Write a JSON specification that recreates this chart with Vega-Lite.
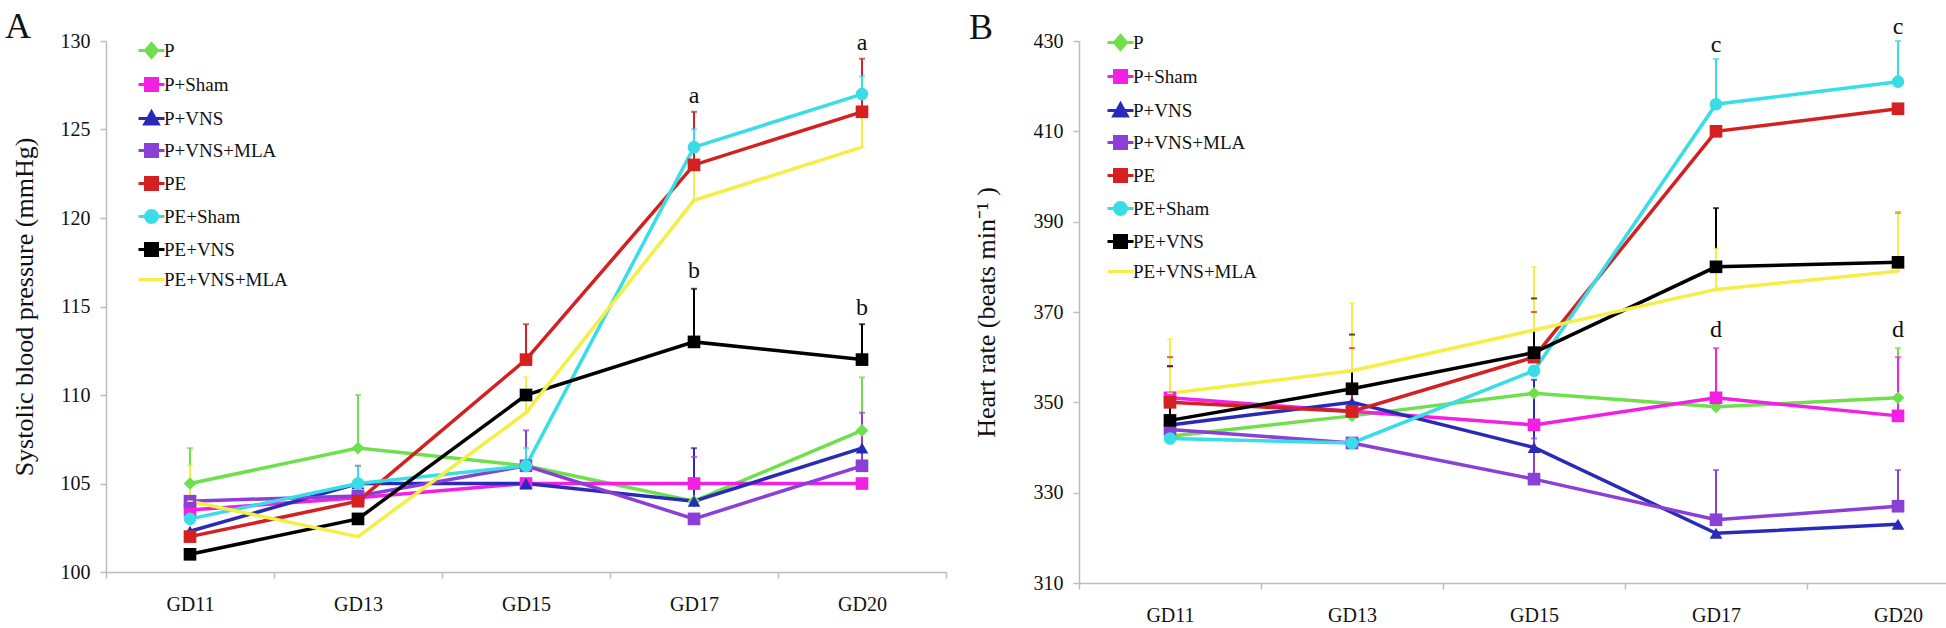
{
  "$schema": "https://vega.github.io/schema/vega-lite/v6.json",
  "background": "white",
  "padding": {"left": 5, "top": 8, "right": 0, "bottom": 0},
  "spacing": 22,
  "config": {
    "font": "Liberation Serif",
    "view": {"stroke": null},
    "axis": {
      "grid": false,
      "domainColor": "#bdbdbd",
      "tickColor": "#bdbdbd",
      "domainWidth": 1.5,
      "tickWidth": 1.5,
      "tickSize": 6,
      "labelFont": "Liberation Serif",
      "labelFontSize": 20,
      "labelColor": "#111111",
      "titleFont": "Liberation Serif",
      "titleFontSize": 26,
      "titleFontWeight": "normal",
      "titleColor": "#111111"
    },
    "legend": {
      "title": null, "orient": "none", "padding": 0,
      "symbolSize": 100, "symbolStrokeWidth": 3, "symbolOpacity": 1,
      "labelFontSize": 19, "labelFont": "Liberation Serif", "labelColor": "#111111",
      "rowPadding": 8, "labelOffset": 3
    },
    "title": {"font": "Liberation Serif", "fontSize": 36, "fontWeight": "normal", "anchor": "start", "color": "#111111"}
  },
  "datasets": {
    "sbp": [
      {"group": "P", "gd": "GD11", "v": 105, "upper": 107},
      {"group": "P", "gd": "GD13", "v": 107, "upper": 110},
      {"group": "P", "gd": "GD15", "v": 106, "upper": null},
      {"group": "P", "gd": "GD17", "v": 104, "upper": null},
      {"group": "P", "gd": "GD20", "v": 108, "upper": 111},
      {"group": "P+Sham", "gd": "GD11", "v": 103.5, "upper": null},
      {"group": "P+Sham", "gd": "GD13", "v": 104.2, "upper": null},
      {"group": "P+Sham", "gd": "GD15", "v": 105, "upper": null},
      {"group": "P+Sham", "gd": "GD17", "v": 105, "upper": 106.5},
      {"group": "P+Sham", "gd": "GD20", "v": 105, "upper": null},
      {"group": "P+VNS", "gd": "GD11", "v": 102.3, "upper": null},
      {"group": "P+VNS", "gd": "GD13", "v": 105, "upper": null},
      {"group": "P+VNS", "gd": "GD15", "v": 105, "upper": null},
      {"group": "P+VNS", "gd": "GD17", "v": 104, "upper": 107},
      {"group": "P+VNS", "gd": "GD20", "v": 107, "upper": 108},
      {"group": "P+VNS+MLA", "gd": "GD11", "v": 104, "upper": null},
      {"group": "P+VNS+MLA", "gd": "GD13", "v": 104.3, "upper": null},
      {"group": "P+VNS+MLA", "gd": "GD15", "v": 106, "upper": 108},
      {"group": "P+VNS+MLA", "gd": "GD17", "v": 103, "upper": null},
      {"group": "P+VNS+MLA", "gd": "GD20", "v": 106, "upper": 109},
      {"group": "PE", "gd": "GD11", "v": 102, "upper": null},
      {"group": "PE", "gd": "GD13", "v": 104, "upper": 106},
      {"group": "PE", "gd": "GD15", "v": 112, "upper": 114},
      {"group": "PE", "gd": "GD17", "v": 123, "upper": 126},
      {"group": "PE", "gd": "GD20", "v": 126, "upper": 129},
      {"group": "PE+Sham", "gd": "GD11", "v": 103, "upper": null},
      {"group": "PE+Sham", "gd": "GD13", "v": 105, "upper": 106},
      {"group": "PE+Sham", "gd": "GD15", "v": 106, "upper": 107},
      {"group": "PE+Sham", "gd": "GD17", "v": 124, "upper": 125},
      {"group": "PE+Sham", "gd": "GD20", "v": 127, "upper": 128},
      {"group": "PE+VNS", "gd": "GD11", "v": 101, "upper": null},
      {"group": "PE+VNS", "gd": "GD13", "v": 103, "upper": null},
      {"group": "PE+VNS", "gd": "GD15", "v": 110, "upper": null},
      {"group": "PE+VNS", "gd": "GD17", "v": 113, "upper": 116},
      {"group": "PE+VNS", "gd": "GD20", "v": 112, "upper": 114},
      {"group": "PE+VNS+MLA", "gd": "GD11", "v": 104, "upper": 106},
      {"group": "PE+VNS+MLA", "gd": "GD13", "v": 102, "upper": null},
      {"group": "PE+VNS+MLA", "gd": "GD15", "v": 109, "upper": 111},
      {"group": "PE+VNS+MLA", "gd": "GD17", "v": 121, "upper": 123},
      {"group": "PE+VNS+MLA", "gd": "GD20", "v": 124, "upper": 126}
    ],
    "hr": [
      {"group": "P", "gd": "GD11", "v": 342.5, "upper": null},
      {"group": "P", "gd": "GD13", "v": 347, "upper": null},
      {"group": "P", "gd": "GD15", "v": 352, "upper": null},
      {"group": "P", "gd": "GD17", "v": 349, "upper": null},
      {"group": "P", "gd": "GD20", "v": 351, "upper": 362},
      {"group": "P+Sham", "gd": "GD11", "v": 351, "upper": 358},
      {"group": "P+Sham", "gd": "GD13", "v": 348, "upper": null},
      {"group": "P+Sham", "gd": "GD15", "v": 345, "upper": null},
      {"group": "P+Sham", "gd": "GD17", "v": 351, "upper": 362},
      {"group": "P+Sham", "gd": "GD20", "v": 347, "upper": 360},
      {"group": "P+VNS", "gd": "GD11", "v": 345, "upper": null},
      {"group": "P+VNS", "gd": "GD13", "v": 350, "upper": null},
      {"group": "P+VNS", "gd": "GD15", "v": 340, "upper": 355},
      {"group": "P+VNS", "gd": "GD17", "v": 321, "upper": null},
      {"group": "P+VNS", "gd": "GD20", "v": 323, "upper": null},
      {"group": "P+VNS+MLA", "gd": "GD11", "v": 344, "upper": null},
      {"group": "P+VNS+MLA", "gd": "GD13", "v": 341, "upper": null},
      {"group": "P+VNS+MLA", "gd": "GD15", "v": 333, "upper": 342},
      {"group": "P+VNS+MLA", "gd": "GD17", "v": 324, "upper": 335},
      {"group": "P+VNS+MLA", "gd": "GD20", "v": 327, "upper": 335},
      {"group": "PE", "gd": "GD11", "v": 350, "upper": 360},
      {"group": "PE", "gd": "GD13", "v": 348, "upper": 362},
      {"group": "PE", "gd": "GD15", "v": 360, "upper": 370},
      {"group": "PE", "gd": "GD17", "v": 410, "upper": null},
      {"group": "PE", "gd": "GD20", "v": 415, "upper": null},
      {"group": "PE+Sham", "gd": "GD11", "v": 342, "upper": null},
      {"group": "PE+Sham", "gd": "GD13", "v": 341, "upper": null},
      {"group": "PE+Sham", "gd": "GD15", "v": 357, "upper": null},
      {"group": "PE+Sham", "gd": "GD17", "v": 416, "upper": 426},
      {"group": "PE+Sham", "gd": "GD20", "v": 421, "upper": 430},
      {"group": "PE+VNS", "gd": "GD11", "v": 346, "upper": 358},
      {"group": "PE+VNS", "gd": "GD13", "v": 353, "upper": 365},
      {"group": "PE+VNS", "gd": "GD15", "v": 361, "upper": 373},
      {"group": "PE+VNS", "gd": "GD17", "v": 380, "upper": 393},
      {"group": "PE+VNS", "gd": "GD20", "v": 381, "upper": 392},
      {"group": "PE+VNS+MLA", "gd": "GD11", "v": 352, "upper": 364},
      {"group": "PE+VNS+MLA", "gd": "GD13", "v": 357, "upper": 372},
      {"group": "PE+VNS+MLA", "gd": "GD15", "v": 366, "upper": 380},
      {"group": "PE+VNS+MLA", "gd": "GD17", "v": 375, "upper": 384},
      {"group": "PE+VNS+MLA", "gd": "GD20", "v": 379, "upper": 392}
    ],
    "sbp_labels": [
      {"gd": "GD17", "v": 126.9, "label": "a"},
      {"gd": "GD20", "v": 129.9, "label": "a"},
      {"gd": "GD17", "v": 117.0, "label": "b"},
      {"gd": "GD20", "v": 114.9, "label": "b"}
    ],
    "hr_labels": [
      {"gd": "GD17", "v": 429.1, "label": "c"},
      {"gd": "GD20", "v": 433.1, "label": "c"},
      {"gd": "GD17", "v": 366.1, "label": "d"},
      {"gd": "GD20", "v": 366.1, "label": "d"}
    ]
  },
  "resolve": {
    "scale": {"color": "independent", "shape": "independent", "stroke": "independent"},
    "legend": {"color": "independent", "shape": "independent", "stroke": "independent"}
  },
  "hconcat": [
    {
      "title": {"text": "A", "dx": -6, "offset": -15},
      "width": 840,
      "height": 531,
      "resolve": {
        "scale": {"shape": "independent", "color": "independent", "stroke": "independent"},
        "legend": {"shape": "independent", "color": "independent", "stroke": "independent"}
      },
      "encoding": {
        "x": {
          "field": "gd", "type": "nominal",
          "scale": {"domain": ["GD11", "GD13", "GD15", "GD17", "GD20"], "paddingInner": 0, "paddingOuter": 0},
          "axis": {"title": null, "labelAngle": 0, "tickBand": "extent", "labelPadding": 16, "tickSize": 6}
        }
      },
      "layer": [
        {
          "data": {"name": "sbp"},
          "transform": [{"filter": "datum.upper != null"}],
          "mark": {"type": "rule", "strokeWidth": 2},
          "encoding": {
            "y": {"field": "v", "type": "quantitative", "scale": {"domain": [100, 130], "nice": false, "zero": false}},
            "y2": {"field": "upper"},
            "color": {"field": "group", "type": "nominal", "legend": null, "scale": {"domain": ["P", "P+Sham", "P+VNS", "P+VNS+MLA", "PE", "PE+Sham", "PE+VNS", "PE+VNS+MLA"], "range": ["#6ee04b", "#f21fe4", "#2a2ab8", "#8a3fd6", "#d42020", "#38dde6", "#000000", "#f4ef46"]}}
          }
        },
        {
          "data": {"name": "sbp"},
          "transform": [{"filter": "datum.upper != null"}],
          "mark": {"type": "tick", "orient": "horizontal", "size": 6, "thickness": 2},
          "encoding": {
            "y": {"field": "upper", "type": "quantitative"},
            "color": {"field": "group", "type": "nominal", "legend": null, "scale": {"domain": ["P", "P+Sham", "P+VNS", "P+VNS+MLA", "PE", "PE+Sham", "PE+VNS", "PE+VNS+MLA"], "range": ["#6ee04b", "#f21fe4", "#2a2ab8", "#8a3fd6", "#d42020", "#38dde6", "#000000", "#f4ef46"]}}
          }
        },
        {
          "data": {"name": "sbp"},
          "mark": {"type": "line", "strokeWidth": 3.5},
          "encoding": {
            "y": {"field": "v", "type": "quantitative", "axis": {"title": "Systolic blood pressure (mmHg)", "values": [100, 105, 110, 115, 120, 125, 130], "tickSize": 6, "labelPadding": 10, "titlePadding": 23}},
            "color": {"field": "group", "type": "nominal", "legend": null, "scale": {"domain": ["P", "P+Sham", "P+VNS", "P+VNS+MLA", "PE", "PE+Sham", "PE+VNS", "PE+VNS+MLA"], "range": ["#6ee04b", "#f21fe4", "#2a2ab8", "#8a3fd6", "#d42020", "#38dde6", "#000000", "#f4ef46"]}},
            "detail": {"field": "group"}
          }
        },
        {
          "data": {"name": "sbp"},
          "mark": {"type": "point", "filled": true, "opacity": 1, "size": 160},
          "encoding": {
            "y": {"field": "v", "type": "quantitative"},
            "color": {"field": "group", "type": "nominal", "legend": null, "scale": {"domain": ["P", "P+Sham", "P+VNS", "P+VNS+MLA", "PE", "PE+Sham", "PE+VNS", "PE+VNS+MLA"], "range": ["#6ee04b", "#f21fe4", "#2a2ab8", "#8a3fd6", "#d42020", "#38dde6", "#000000", "#f4ef46"]}},
            "shape": {
              "field": "group", "type": "nominal", "legend": null,
              "scale": {"domain": ["P", "P+Sham", "P+VNS", "P+VNS+MLA", "PE", "PE+Sham", "PE+VNS", "PE+VNS+MLA"], "range": ["diamond", "square", "triangle-up", "square", "square", "circle", "square", "M-0.45,-0.13H0.45V0.13H-0.45Z"]}
            }
          }
        },
        {
          "data": {"name": "sbp"},
          "transform": [{"filter": "false"}],
          "mark": {"type": "point", "filled": true, "opacity": 1, "strokeWidth": 3},
          "encoding": {
            "y": {"field": "v", "type": "quantitative"},
            "color": {
              "field": "group", "type": "nominal",
              "scale": {"domain": ["P", "P+Sham", "P+VNS", "P+VNS+MLA", "PE", "PE+Sham", "PE+VNS", "PE+VNS+MLA"], "range": ["#6ee04b", "#f21fe4", "#2a2ab8", "#8a3fd6", "#d42020", "#38dde6", "#000000", "#f4ef46"]},
              "legend": {"legendX": 36, "legendY": 0}
            },
            "stroke": {
              "field": "group", "type": "nominal",
              "scale": {"domain": ["P", "P+Sham", "P+VNS", "P+VNS+MLA", "PE", "PE+Sham", "PE+VNS", "PE+VNS+MLA"], "range": ["#6ee04b", "#f21fe4", "#2a2ab8", "#8a3fd6", "#d42020", "#38dde6", "#000000", "#f4ef46"]},
              "legend": {"legendX": 36, "legendY": 0}
            },
            "shape": {
              "field": "group", "type": "nominal",
              "scale": {"domain": ["P", "P+Sham", "P+VNS", "P+VNS+MLA", "PE", "PE+Sham", "PE+VNS", "PE+VNS+MLA"], "range": ["M-2.6,0H2.6M0,-1.4L1.2,0L0,1.4L-1.2,0Z", "M-2.6,0H2.6M-1.2,-1.2H1.2V1.2H-1.2Z", "M-2.6,0H2.6M0,-1.35L1.35,1.1H-1.35Z", "M-2.6,0H2.6M-1.2,-1.2H1.2V1.2H-1.2Z", "M-2.6,0H2.6M-1.2,-1.2H1.2V1.2H-1.2Z", "M-2.6,0H2.6M-1.2,0A1.2,1.2,0,1,0,1.2,0A1.2,1.2,0,1,0,-1.2,0Z", "M-2.6,0H2.6M-1.2,-1.2H1.2V1.2H-1.2Z", "M-2.6,0H2.6"]},
              "legend": {"legendX": 36, "legendY": 0}
            }
          }
        },
        {
          "data": {"name": "sbp_labels"},
          "mark": {"type": "text", "fontSize": 24, "font": "Liberation Serif", "color": "#111111", "baseline": "middle"},
          "encoding": {
            "y": {"field": "v", "type": "quantitative"},
            "text": {"field": "label"}
          }
        }
      ]
    },
    {
      "title": {"text": "B", "dx": -4, "offset": -32},
      "width": 910,
      "height": 542,
      "resolve": {
        "scale": {"shape": "independent", "color": "independent", "stroke": "independent"},
        "legend": {"shape": "independent", "color": "independent", "stroke": "independent"}
      },
      "encoding": {
        "x": {
          "field": "gd", "type": "nominal",
          "scale": {"domain": ["GD11", "GD13", "GD15", "GD17", "GD20"], "paddingInner": 0, "paddingOuter": 0},
          "axis": {"title": null, "labelAngle": 0, "tickBand": "extent", "labelPadding": 16, "tickSize": 6}
        }
      },
      "layer": [
        {
          "data": {"name": "hr"},
          "transform": [{"filter": "datum.upper != null"}],
          "mark": {"type": "rule", "strokeWidth": 2},
          "encoding": {
            "y": {"field": "v", "type": "quantitative", "scale": {"domain": [310, 430], "nice": false, "zero": false}},
            "y2": {"field": "upper"},
            "color": {"field": "group", "type": "nominal", "legend": null, "scale": {"domain": ["P", "P+Sham", "P+VNS", "P+VNS+MLA", "PE", "PE+Sham", "PE+VNS", "PE+VNS+MLA"], "range": ["#6ee04b", "#f21fe4", "#2a2ab8", "#8a3fd6", "#d42020", "#38dde6", "#000000", "#f4ef46"]}}
          }
        },
        {
          "data": {"name": "hr"},
          "transform": [{"filter": "datum.upper != null"}],
          "mark": {"type": "tick", "orient": "horizontal", "size": 6, "thickness": 2},
          "encoding": {
            "y": {"field": "upper", "type": "quantitative"},
            "color": {"field": "group", "type": "nominal", "legend": null, "scale": {"domain": ["P", "P+Sham", "P+VNS", "P+VNS+MLA", "PE", "PE+Sham", "PE+VNS", "PE+VNS+MLA"], "range": ["#6ee04b", "#f21fe4", "#2a2ab8", "#8a3fd6", "#d42020", "#38dde6", "#000000", "#f4ef46"]}}
          }
        },
        {
          "data": {"name": "hr"},
          "mark": {"type": "line", "strokeWidth": 3.5},
          "encoding": {
            "y": {"field": "v", "type": "quantitative", "axis": {"title": "Heart rate (beats min⁻¹ )", "values": [310, 330, 350, 370, 390, 410, 430], "tickSize": 6, "labelPadding": 10, "titlePadding": 34}},
            "color": {"field": "group", "type": "nominal", "legend": null, "scale": {"domain": ["P", "P+Sham", "P+VNS", "P+VNS+MLA", "PE", "PE+Sham", "PE+VNS", "PE+VNS+MLA"], "range": ["#6ee04b", "#f21fe4", "#2a2ab8", "#8a3fd6", "#d42020", "#38dde6", "#000000", "#f4ef46"]}},
            "detail": {"field": "group"}
          }
        },
        {
          "data": {"name": "hr"},
          "mark": {"type": "point", "filled": true, "opacity": 1, "size": 160},
          "encoding": {
            "y": {"field": "v", "type": "quantitative"},
            "color": {"field": "group", "type": "nominal", "legend": null, "scale": {"domain": ["P", "P+Sham", "P+VNS", "P+VNS+MLA", "PE", "PE+Sham", "PE+VNS", "PE+VNS+MLA"], "range": ["#6ee04b", "#f21fe4", "#2a2ab8", "#8a3fd6", "#d42020", "#38dde6", "#000000", "#f4ef46"]}},
            "shape": {
              "field": "group", "type": "nominal", "legend": null,
              "scale": {"domain": ["P", "P+Sham", "P+VNS", "P+VNS+MLA", "PE", "PE+Sham", "PE+VNS", "PE+VNS+MLA"], "range": ["diamond", "square", "triangle-up", "square", "square", "circle", "square", "M-0.45,-0.13H0.45V0.13H-0.45Z"]}
            }
          }
        },
        {
          "data": {"name": "hr"},
          "transform": [{"filter": "false"}],
          "mark": {"type": "point", "filled": true, "opacity": 1, "strokeWidth": 3},
          "encoding": {
            "y": {"field": "v", "type": "quantitative"},
            "color": {
              "field": "group", "type": "nominal",
              "scale": {"domain": ["P", "P+Sham", "P+VNS", "P+VNS+MLA", "PE", "PE+Sham", "PE+VNS", "PE+VNS+MLA"], "range": ["#6ee04b", "#f21fe4", "#2a2ab8", "#8a3fd6", "#d42020", "#38dde6", "#000000", "#f4ef46"]},
              "legend": {"legendX": 32, "legendY": -8}
            },
            "stroke": {
              "field": "group", "type": "nominal",
              "scale": {"domain": ["P", "P+Sham", "P+VNS", "P+VNS+MLA", "PE", "PE+Sham", "PE+VNS", "PE+VNS+MLA"], "range": ["#6ee04b", "#f21fe4", "#2a2ab8", "#8a3fd6", "#d42020", "#38dde6", "#000000", "#f4ef46"]},
              "legend": {"legendX": 32, "legendY": -8}
            },
            "shape": {
              "field": "group", "type": "nominal",
              "scale": {"domain": ["P", "P+Sham", "P+VNS", "P+VNS+MLA", "PE", "PE+Sham", "PE+VNS", "PE+VNS+MLA"], "range": ["M-2.6,0H2.6M0,-1.4L1.2,0L0,1.4L-1.2,0Z", "M-2.6,0H2.6M-1.2,-1.2H1.2V1.2H-1.2Z", "M-2.6,0H2.6M0,-1.35L1.35,1.1H-1.35Z", "M-2.6,0H2.6M-1.2,-1.2H1.2V1.2H-1.2Z", "M-2.6,0H2.6M-1.2,-1.2H1.2V1.2H-1.2Z", "M-2.6,0H2.6M-1.2,0A1.2,1.2,0,1,0,1.2,0A1.2,1.2,0,1,0,-1.2,0Z", "M-2.6,0H2.6M-1.2,-1.2H1.2V1.2H-1.2Z", "M-2.6,0H2.6"]},
              "legend": {"legendX": 32, "legendY": -8}
            }
          }
        },
        {
          "data": {"name": "hr_labels"},
          "mark": {"type": "text", "fontSize": 24, "font": "Liberation Serif", "color": "#111111", "baseline": "middle"},
          "encoding": {
            "y": {"field": "v", "type": "quantitative"},
            "text": {"field": "label"}
          }
        }
      ]
    }
  ]
}
